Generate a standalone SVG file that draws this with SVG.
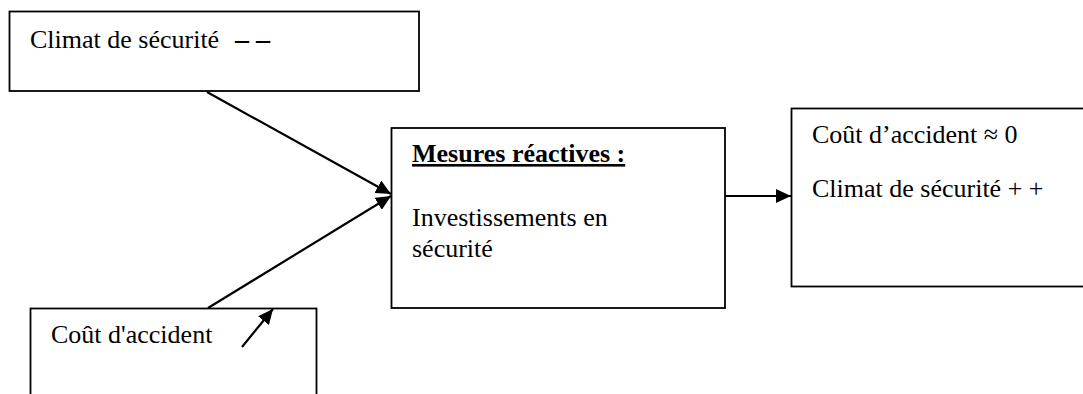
<svg xmlns="http://www.w3.org/2000/svg" width="1083" height="394" viewBox="0 0 1083 394">
<style>
.box{fill:#fff;stroke:#000;stroke-width:1.8}
.t{font-family:"Liberation Serif","Times New Roman",serif;font-size:26px;fill:#000}
.b{font-weight:bold;text-decoration:underline}
.c{stroke:#000;stroke-width:2.2;fill:none}
</style>
<defs>
<marker id="ah" markerUnits="userSpaceOnUse" markerWidth="16" markerHeight="14" refX="15" refY="7" orient="auto">
<path d="M0,0 L15,7 L0,14 Z" fill="#000"/>
</marker>
</defs>
<rect width="1083" height="394" fill="#fff"/>
<g id="n-climat">
<rect class="box" x="9.5" y="11.5" width="409.5" height="79.5"/>
<text class="t" x="30" y="48">Climat de sécurité</text>
<text class="t" x="235" y="48" style="font-size:28px;font-weight:bold">– –</text>
</g>
<g id="n-mesures">
<rect class="box" x="391.5" y="128" width="333.5" height="180"/>
<text class="t b" x="412" y="162">Mesures réactives :</text>
<text class="t" x="412" y="226">Investissements en</text>
<text class="t" x="412" y="257">sécurité</text>
</g>
<g id="n-resultat">
<rect class="box" x="791.5" y="108.5" width="300" height="178"/>
<text class="t" x="812" y="143">Coût d’accident ≈ 0</text>
<text class="t" x="812" y="197">Climat de sécurité + +</text>
</g>
<g id="n-cout">
<rect class="box" x="30.5" y="308.5" width="286" height="100"/>
<text class="t" x="51" y="343">Coût d'accident</text>
</g>
<g id="connectors">
<line class="c" x1="207" y1="92" x2="391" y2="194" marker-end="url(#ah)"/>
<line class="c" x1="208" y1="308" x2="391" y2="196" marker-end="url(#ah)"/>
<line class="c" x1="725" y1="196" x2="791" y2="196" marker-end="url(#ah)"/>
<line class="c" x1="242" y1="347" x2="273" y2="309" marker-end="url(#ah)"/>
</g>
</svg>
